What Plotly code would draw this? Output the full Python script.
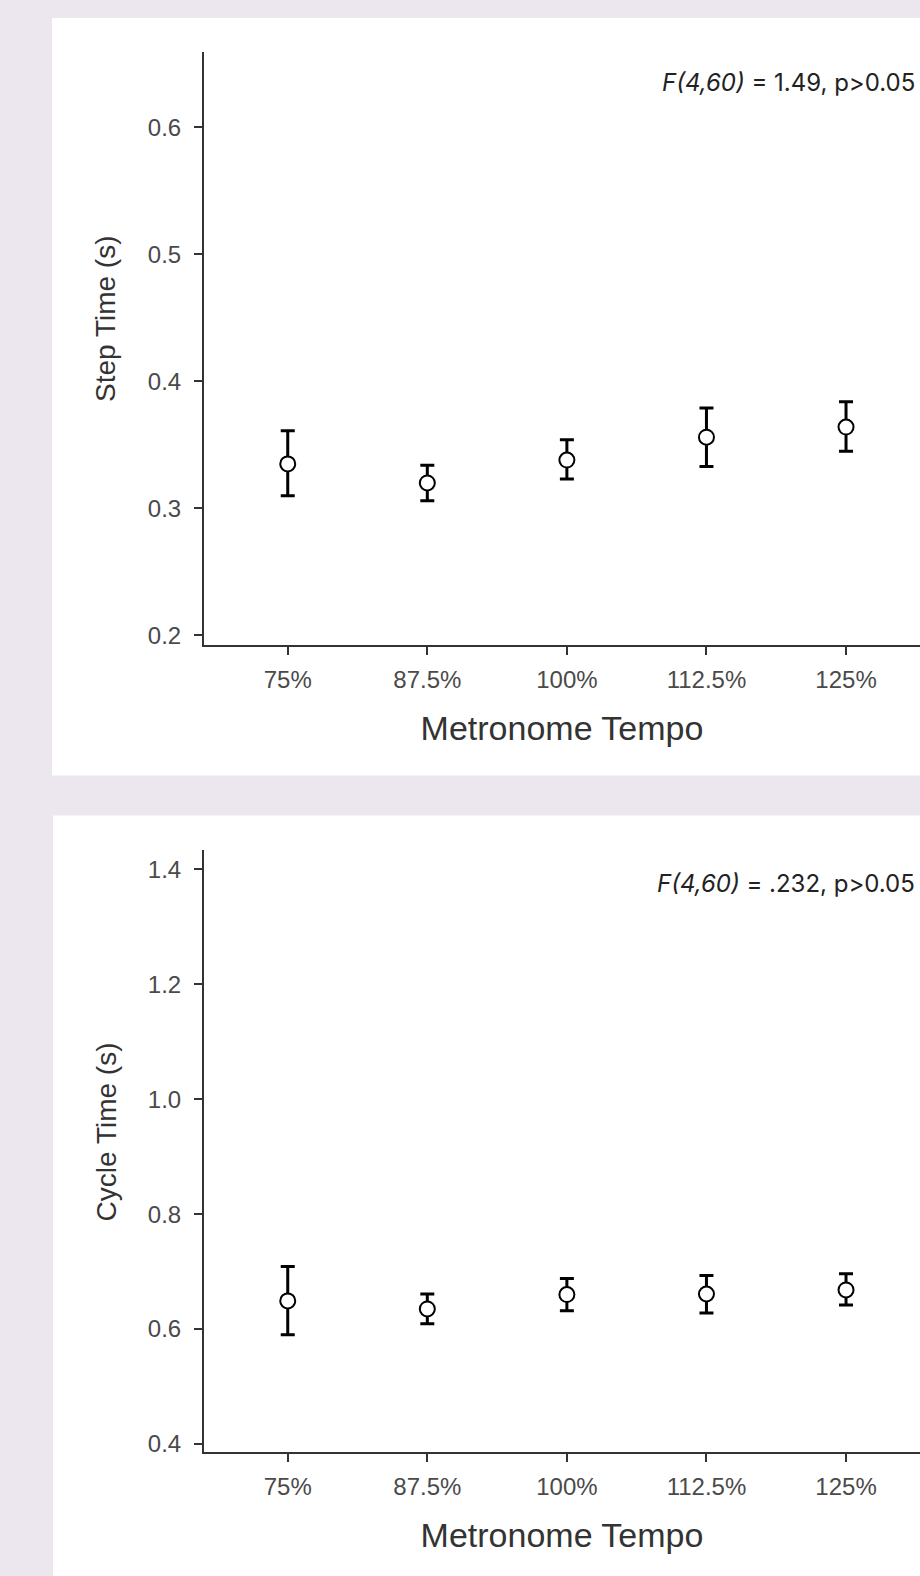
import plotly.graph_objects as go

# ---- data ----
tempos = ["75%", "87.5%", "100%", "112.5%", "125%"]

step_mean = [0.335, 0.320, 0.338, 0.356, 0.364]
step_upper = [0.361, 0.334, 0.354, 0.379, 0.384]
step_lower = [0.310, 0.306, 0.323, 0.333, 0.345]

cycle_mean = [0.649, 0.635, 0.660, 0.661, 0.668]
cycle_upper = [0.709, 0.661, 0.688, 0.693, 0.696]
cycle_lower = [0.590, 0.609, 0.632, 0.628, 0.642]

step_ticks = [0.2, 0.3, 0.4, 0.5, 0.6]
cycle_ticks = [0.4, 0.6, 0.8, 1.0, 1.2, 1.4]

annot_top = "<i>F(4,60)</i> = 1.49, p>0.05"
annot_bot = "<i>F(4,60)</i> = .232, p>0.05"

W, H = 920, 1576
BG = "#ece7ee"
AX = "#333333"
TICKC = "#4a4a4a"
TITC = "#333333"
FONT = "Liberation Sans, Arial, sans-serif"


def py(px):
    return 1 - px / H


fig = go.Figure()


def add_panel(mean, upper, lower, xa, ya):
    fig.add_trace(go.Scatter(
        x=tempos, y=mean, xaxis=xa, yaxis=ya, mode="markers",
        marker=dict(symbol="circle", size=15, color="white",
                    line=dict(color="black", width=2)),
        error_y=dict(type="data", symmetric=False,
                     array=[u - m for u, m in zip(upper, mean)],
                     arrayminus=[m - l for m, l in zip(mean, lower)],
                     color="black", thickness=3, width=7),
        showlegend=False, hoverinfo="x+y"))


add_panel(step_mean, step_upper, step_lower, "x", "y")
add_panel(cycle_mean, cycle_upper, cycle_lower, "x2", "y2")

xcommon = dict(
    type="category", categoryorder="array", categoryarray=tempos,
    range=[-0.6, 4.53], showline=True, linecolor=AX, linewidth=2,
    ticks="outside", ticklen=8, tickwidth=2, tickcolor=AX,
    showgrid=False, zeroline=False,
    tickfont=dict(family=FONT, size=24, color=TICKC),
    ticklabelstandoff=4,
    title=dict(text="Metronome Tempo", font=dict(family=FONT, size=34, color=TITC),
               standoff=24),
)
ycommon = dict(
    showline=True, linecolor=AX, linewidth=2,
    ticks="outside", ticklen=8, tickwidth=2, tickcolor=AX,
    showgrid=False, zeroline=False,
    tickfont=dict(family=FONT, size=24, color=TICKC),
    ticklabelstandoff=8,
)

xdom = [204 / W, 1.0]

fig.update_layout(
    width=W, height=H,
    margin=dict(l=0, r=0, t=0, b=0),
    paper_bgcolor=BG, plot_bgcolor="white",
    xaxis=dict(domain=xdom, anchor="y", **xcommon),
    yaxis=dict(domain=[py(647), py(52)], anchor="x", range=[0.1924, 0.6595],
               tickvals=step_ticks, ticktext=[f"{v:.1f}" for v in step_ticks],
               **ycommon),
    xaxis2=dict(domain=xdom, anchor="y2", **xcommon),
    yaxis2=dict(domain=[py(1457), py(853)], anchor="x2", range=[0.3854, 1.433],
                tickvals=cycle_ticks, ticktext=[f"{v:.1f}" for v in cycle_ticks],
                **ycommon),
    shapes=[
        dict(type="rect", xref="paper", yref="paper", layer="below",
             x0=52 / W, x1=1.02, y0=py(778), y1=py(18),
             fillcolor="white", line=dict(width=0)),
        dict(type="rect", xref="paper", yref="paper", layer="below",
             x0=53 / W, x1=1.02, y0=-0.02, y1=py(818),
             fillcolor="white", line=dict(width=0)),
    ],
    annotations=[
        dict(text=annot_top, xref="paper", yref="paper", x=917 / W, y=py(83),
             xanchor="right", yanchor="middle", showarrow=False,
             font=dict(family="Inter, sans-serif", size=24, color="#222222")),
        dict(text=annot_bot, xref="paper", yref="paper", x=917 / W, y=py(886),
             xanchor="right", yanchor="middle", showarrow=False,
             font=dict(family="Inter, sans-serif", size=24, color="#222222")),
        dict(text="Step Time (s)", xref="paper", yref="paper", x=106 / W, y=py(320),
             xanchor="center", yanchor="middle", textangle=-90, showarrow=False,
             font=dict(family=FONT, size=28, color=TITC)),
        dict(text="Cycle Time (s)", xref="paper", yref="paper", x=106 / W, y=py(1136),
             xanchor="center", yanchor="middle", textangle=-90, showarrow=False,
             font=dict(family=FONT, size=28, color=TITC)),
    ],
)

fig.write_html(
    "out.html",
    config={"displayModeBar": False},
    post_script="document.body.style.margin='0';document.body.style.padding='0';"
                "document.body.style.background='#ece7ee';",
)
